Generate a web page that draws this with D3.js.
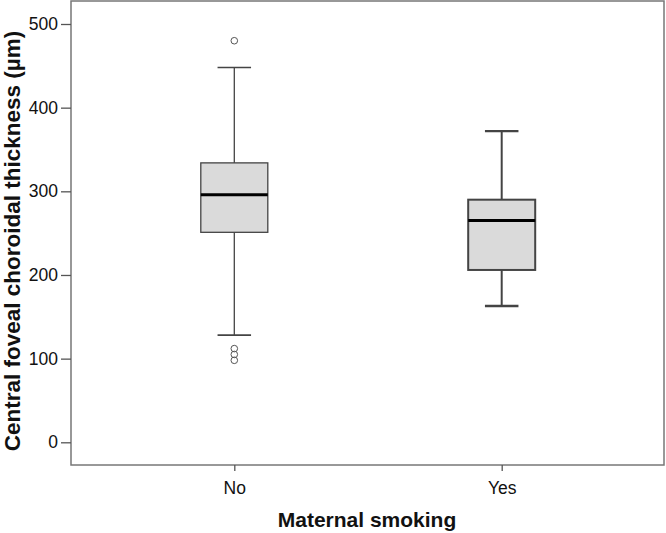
<!DOCTYPE html>
<html>
<head>
<meta charset="utf-8">
<script src="https://cdn.jsdelivr.net/npm/d3@7"></script>
<style>
  body { margin: 0; background: #fff; }
  text { font-family: "Liberation Sans", Arial, sans-serif; }
</style>
</head>
<body>
<div id="chart"></div>
<script>
// box plot summary values
const groups = ["No", "Yes"];
const whiskerLow = [128, 163];
const q1 = [251, 206];
const median = [296, 265];
const q3 = [334, 290];
const whiskerHigh = [448, 372];
const outliers = [[480, 112, 105, 98], []];
const yTicks = [0, 100, 200, 300, 400, 500];

const W = 666, H = 533;
const margin = { top: 1, right: 2, bottom: 68, left: 71 };

const svg = d3.select("#chart")
  .append("svg")
    .attr("width", W)
    .attr("height", H);

// y: 0 at 442, 500 at 24
var y = d3.scaleLinear()
    .domain([0, 500])
    .range([442.3, 24]);

var x = d3.scalePoint()
    .domain(groups)
    .range([234.3, 501.7]);

const boxW = 67;

// plot frame
svg.append("rect")
    .attr("x", margin.left)
    .attr("y", margin.top)
    .attr("width", W - margin.left - margin.right)
    .attr("height", 465 - margin.top)
    .attr("fill", "none")
    .attr("stroke", "#777")
    .attr("stroke-width", 1.5);

// y axis
svg.append("g")
    .attr("transform", `translate(${margin.left},0)`)
    .call(d3.axisLeft(y).tickValues(yTicks).tickSize(10).tickPadding(3))
    .call(g => g.select(".domain").remove())
    .call(g => g.selectAll(".tick line").attr("stroke", "#555").attr("stroke-width", 1.3))
    .call(g => g.selectAll(".tick text")
        .attr("fill", "#111")
        .style("font-size", "17.5px")
        .style("font-family", "'Liberation Sans', Arial, sans-serif"));

// x axis
svg.append("g")
    .attr("transform", "translate(0,465)")
    .call(d3.axisBottom(x).tickSize(6).tickPadding(11))
    .call(g => g.select(".domain").remove())
    .call(g => g.selectAll(".tick line").attr("stroke", "#555").attr("stroke-width", 1.3))
    .call(g => g.selectAll(".tick text")
        .attr("fill", "#111")
        .style("font-size", "17.5px")
        .style("font-family", "'Liberation Sans', Arial, sans-serif"));

// boxes
groups.forEach((gname, i) => {
  const cx = x(gname);
  const lw = i === 0 ? 1.3 : 2; // second box is drawn with heavier strokes
  const g = svg.append("g");

  // whiskers
  g.append("line")
      .attr("x1", cx).attr("x2", cx)
      .attr("y1", y(whiskerHigh[i])).attr("y2", y(q3[i]))
      .attr("stroke", "#444").attr("stroke-width", lw);
  g.append("line")
      .attr("x1", cx).attr("x2", cx)
      .attr("y1", y(q1[i])).attr("y2", y(whiskerLow[i]))
      .attr("stroke", "#444").attr("stroke-width", lw);
  [whiskerHigh[i], whiskerLow[i]].forEach(v => {
    g.append("line")
        .attr("x1", cx - boxW / 4).attr("x2", cx + boxW / 4)
        .attr("y1", y(v)).attr("y2", y(v))
        .attr("stroke", "#444").attr("stroke-width", lw + 0.4);
  });

  // box
  g.append("rect")
      .attr("x", cx - boxW / 2)
      .attr("y", y(q3[i]))
      .attr("width", boxW)
      .attr("height", y(q1[i]) - y(q3[i]))
      .attr("fill", "#dadada")
      .attr("stroke", "#444")
      .attr("stroke-width", lw);

  // median
  g.append("line")
      .attr("x1", cx - boxW / 2).attr("x2", cx + boxW / 2)
      .attr("y1", y(median[i])).attr("y2", y(median[i]))
      .attr("stroke", "#000").attr("stroke-width", 3);

  // outliers
  g.selectAll("circle")
      .data(outliers[i])
      .enter()
      .append("circle")
        .attr("cx", cx)
        .attr("cy", d => y(d))
        .attr("r", 3.3)
        .attr("fill", "none")
        .attr("stroke", "#555")
        .attr("stroke-width", 1);
});

// axis titles
svg.append("text")
    .attr("x", 367)
    .attr("y", 527)
    .attr("text-anchor", "middle")
    .style("font-size", "21px")
    .style("font-weight", "bold")
    .attr("fill", "#111")
    .text("Maternal smoking");

svg.append("text")
    .attr("transform", "translate(19.5,241) rotate(-90)")
    .attr("text-anchor", "middle")
    .style("font-size", "22.5px")
    .style("font-weight", "bold")
    .attr("fill", "#111")
    .text("Central foveal choroidal thickness (µm)");
</script>
</body>
</html>
